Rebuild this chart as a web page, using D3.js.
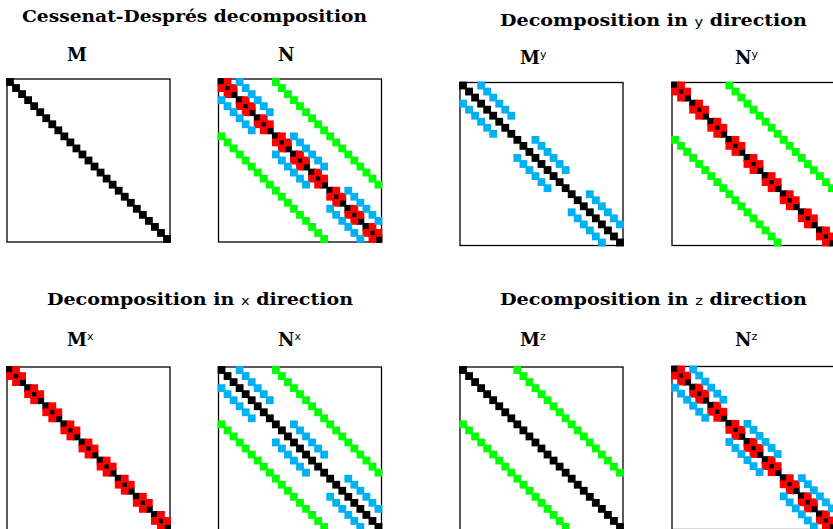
<!DOCTYPE html>
<html>
<head>
<meta charset="utf-8">
<script src="https://cdn.jsdelivr.net/npm/d3@7"></script>
<style>
  html, body { margin: 0; padding: 0; background: #fff; }
  svg { display: block; }
</style>
</head>
<body>
<svg id="chart" width="833" height="529"></svg>
<script>
// ---------- DATA ----------
// matrix size: 27 unknowns (3 x 3 x 3 grid)
const matrixIndices = [0,1,2,3,4,5,6,7,8,9,10,11,12,13,14,15,16,17,18,19,20,21,22,23,24,25,26];
// diagonal entries
const diagonalRows = [0,1,2,3,4,5,6,7,8,9,10,11,12,13,14,15,16,17,18,19,20,21,22,23,24,25,26];
// x-direction couplings (i, i+1) and symmetric
const xCouplingRows = [0,1,3,4,6,7,9,10,12,13,15,16,18,19,21,22,24,25];
const xCouplingOffset = 1;
// y-direction couplings (i, i+3) and symmetric
const yCouplingRows = [0,1,2,3,4,5,9,10,11,12,13,14,18,19,20,21,22,23];
const yCouplingOffset = 3;
// z-direction couplings (i, i+9) and symmetric
const zCouplingRows = [0,1,2,3,4,5,6,7,8,9,10,11,12,13,14,15,16,17];
const zCouplingOffset = 9;

// panel contents
const panelNames   = ["M", "N", "M", "N", "M", "N", "M", "N"];
const panelSupers  = ["", "", "y", "y", "x", "x", "z", "z"];
const panelParts   = [
  ["diag"],
  ["diag", "x", "y", "z"],
  ["diag", "y"],
  ["diag", "x", "z"],
  ["diag", "x"],
  ["diag", "y", "z"],
  ["diag", "z"],
  ["diag", "x", "y"]
];
const groupTitles = [
  ["Cessenat-Després decomposition"],
  ["Decomposition in ", "y", " direction"],
  ["Decomposition in ", "x", " direction"],
  ["Decomposition in ", "z", " direction"]
];

// ---------- STYLE / LAYOUT ----------
const partColors = { diag: "#000000", x: "#ff0000", y: "#00b0f0", z: "#00ff00" };
const panelSize = 163;
const markerSize = 7.8;
const panelPos = [
  [7, 79], [218.5, 79], [460, 82.5], [672, 82.5],
  [7, 367], [218.5, 367], [460, 367], [672, 366.5]
];
const labelPos = [
  [67, 61], [278, 61], [520, 64], [735, 64],
  [67, 346], [278, 346], [520, 346], [735, 346]
];
const titlePos = [
  [194.5, 22, 345], [653.5, 26, 307], [200, 305, 306], [653.5, 305, 307]
];

const svg = d3.select("#chart");

function entriesFor(part) {
  if (part === "diag") return diagonalRows.map(i => [i, i]);
  const rows = part === "x" ? xCouplingRows : part === "y" ? yCouplingRows : zCouplingRows;
  const off = part === "x" ? xCouplingOffset : part === "y" ? yCouplingOffset : zCouplingOffset;
  const out = [];
  rows.forEach(i => { out.push([i, i + off]); out.push([i + off, i]); });
  return out;
}

const scale = d3.scaleLinear()
  .domain([d3.min(matrixIndices) - 0.5, d3.max(matrixIndices) + 0.5])
  .range([0, panelSize]);

panelParts.forEach((parts, p) => {
  const g = svg.append("g").attr("transform", `translate(${panelPos[p][0]},${panelPos[p][1]})`);
  g.append("rect")
    .attr("x", 0).attr("y", 0)
    .attr("width", panelSize).attr("height", panelSize)
    .attr("fill", "none").attr("stroke", "#000").attr("stroke-width", 1.3);
  parts.forEach(part => {
    g.append("g").selectAll("rect")
      .data(entriesFor(part))
      .join("rect")
      .attr("x", d => scale(d[1]) - markerSize / 2)
      .attr("y", d => scale(d[0]) - markerSize / 2)
      .attr("width", markerSize)
      .attr("height", markerSize)
      .attr("fill", partColors[part]);
  });
  // label
  const t = svg.append("text")
    .attr("x", labelPos[p][0]).attr("y", labelPos[p][1])
    .attr("font-family", "'DejaVu Serif', serif")
    .attr("font-weight", "bold")
    .attr("font-size", 18)
    .attr("fill", "#000");
  t.append("tspan").text(panelNames[p]);
  if (panelSupers[p]) {
    t.append("tspan")
      .attr("dy", -6)
      .attr("font-weight", "normal")
      .attr("font-family", "'DejaVu Sans', sans-serif")
      .attr("font-size", 11)
      .text(panelSupers[p]);
  }
});

groupTitles.forEach((parts, i) => {
  const t = svg.append("text")
    .attr("x", titlePos[i][0]).attr("y", titlePos[i][1])
    .attr("text-anchor", "middle")
    .attr("font-family", "'DejaVu Serif', serif")
    .attr("font-weight", "bold")
    .attr("font-size", 17)
    .attr("textLength", titlePos[i][2])
    .attr("lengthAdjust", "spacingAndGlyphs")
    .attr("fill", "#000");
  parts.forEach((s, k) => {
    const ts = t.append("tspan").text(s);
    if (k === 1) {
      ts.attr("font-weight", "normal")
        .attr("font-family", "'DejaVu Sans', sans-serif")
        .attr("font-size", 13);
    }
  });
});
</script>
</body>
</html>
